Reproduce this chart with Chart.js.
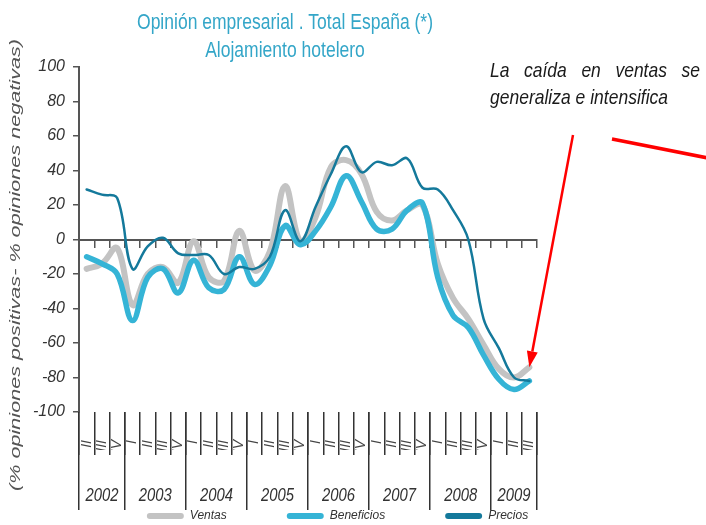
<!DOCTYPE html>
<html><head><meta charset="utf-8">
<style>html,body{margin:0;padding:0;background:#fff;}canvas{display:block;}</style>
<script src="https://cdn.jsdelivr.net/npm/chart.js@4.4.1/dist/chart.umd.min.js"></script>
</head><body>
<canvas id="c" width="706" height="525"></canvas>
<script>
// ---- data ----
const quarters = ['II','III','IV',
  'I','II','III','IV', 'I','II','III','IV', 'I','II','III','IV',
  'I','II','III','IV', 'I','II','III','IV', 'I','II','III','IV',
  'I','II','III'];
const years = ['2002','2003','2004','2005','2006','2007','2008','2009'];
const yearStartIdx = [0, 3, 7, 11, 15, 19, 23, 27, 30];
const ventas = [-17, -14, -5, -38, -20, -16, -25, -1, -22, -24, 5, -18, -7, 31, -1, 13,
  42, 46, 38, 16, 11, 17, 20, -14, -34, -46, -61, -75, -80, -74];
const beneficios = [-10, -14, -20, -47, -22, -17, -31, -12, -28, -29, -10, -26, -15, 8, -3, 5,
  19, 37, 22, 6, 6, 17, 21, -22, -44, -51, -67, -81, -87, -82];
const precios = [29, 26, 24, -17, -4, 1, -8, -9, -9, -20, -16, -17, -10, 17, -1, 19,
  38, 54, 39, 45, 43, 47, 30, 29, 17, 0, -46, -63, -80, -82];
const titleLines = ['Opinión empresarial . Total España (*)', 'Alojamiento hotelero'];
const yAxisTitle = '(% opiniones positivas- % opiniones negativas)';
const noteLines = [['La','caída','en','ventas','se'], 'generaliza e intensifica'];

const FAM = "'Liberation Sans', Arial, sans-serif";
Chart.defaults.font.family = FAM;

function alignPx(p, w) { return Math.round(p - w / 2) + w / 2; }

function narrowText(ctx, text, x, y, font, color, align, sx) {
  ctx.save();
  ctx.font = font; ctx.fillStyle = color; ctx.textBaseline = 'alphabetic'; ctx.textAlign = 'left';
  const w = ctx.measureText(text).width * sx;
  const left = align === 'center' ? x - w / 2 : (align === 'right' ? x - w : x);
  ctx.translate(left, y); ctx.scale(sx, 1);
  ctx.fillText(text, 0, 0);
  ctx.restore();
}

const decor = {
  id: 'decor',
  afterDraw(chart) {
    const ctx = chart.ctx;
    const xs = chart.scales.x, ys = chart.scales.y;
    const bottom = chart.chartArea.bottom;
    ctx.save();
    // year separators
    ctx.strokeStyle = '#333'; ctx.lineWidth = 1.5;
    yearStartIdx.forEach(b => {
      const px = alignPx(xs.getPixelForValue(b - 0.5), 1.5);
      ctx.beginPath(); ctx.moveTo(px, bottom); ctx.lineTo(px, bottom + 98); ctx.stroke();
    });
    // year labels
    for (let k = 0; k < years.length; k++) {
      const a = xs.getPixelForValue(yearStartIdx[k] - 0.5);
      const b = xs.getPixelForValue(yearStartIdx[k + 1] - 0.5);
      narrowText(ctx, years[k], (a + b) / 2, bottom + 89, 'italic 19px ' + FAM, '#333', 'center', 0.78);
    }
    // title
    const tf = 'normal 22px ' + FAM;
    ctx.font = tf;
    const tsx = 296 / ctx.measureText(titleLines[0]).width;
    narrowText(ctx, titleLines[0], 285, 29, tf, '#34a6c8', 'center', tsx);
    narrowText(ctx, titleLines[1], 285, 57, tf, '#34a6c8', 'center', tsx);
    // y axis title
    ctx.save();
    ctx.font = 'italic 15px ' + FAM;
    const ysx = 452 / ctx.measureText(yAxisTitle).width;
    ctx.translate(20, 265); ctx.rotate(-Math.PI / 2); ctx.scale(ysx, 1);
    ctx.fillStyle = '#555'; ctx.textAlign = 'center'; ctx.textBaseline = 'alphabetic';
    ctx.fillText(yAxisTitle, 0, 0);
    ctx.restore();
    // annotation text
    const nf = 'italic 21px ' + FAM;
    ctx.font = nf;
    const nsx = 178 / ctx.measureText(noteLines[1]).width;
    const words = noteLines[0];
    const ww = words.map(w => ctx.measureText(w).width * nsx);
    const gap = (210 - ww.reduce((s, v) => s + v, 0)) / (words.length - 1);
    let cx = 490;
    words.forEach((w, i) => { narrowText(ctx, w, cx, 77, nf, '#1a1a1a', 'left', nsx); cx += ww[i] + gap; });
    narrowText(ctx, noteLines[1], 490, 104, nf, '#1a1a1a', 'left', nsx);
    // red arrow to last ventas point
    const tipX = xs.getPixelForValue(ventas.length - 1);
    const tipY = ys.getPixelForValue(ventas[ventas.length - 1]);
    const sX = 573, sY = 135;
    const ang = Math.atan2(tipY - sY, tipX - sX);
    const hl = 16, hw = 5.5;
    const bx = tipX - hl * Math.cos(ang), by = tipY - hl * Math.sin(ang);
    ctx.strokeStyle = '#ff0000'; ctx.fillStyle = '#ff0000'; ctx.lineWidth = 2.5; ctx.lineCap = 'butt';
    ctx.beginPath(); ctx.moveTo(sX, sY); ctx.lineTo(bx, by); ctx.stroke();
    ctx.beginPath();
    ctx.moveTo(tipX, tipY);
    ctx.lineTo(bx + hw * Math.sin(ang), by - hw * Math.cos(ang));
    ctx.lineTo(bx - hw * Math.sin(ang), by + hw * Math.cos(ang));
    ctx.closePath(); ctx.fill();
    // second red stroke
    ctx.lineWidth = 3.5;
    ctx.beginPath(); ctx.moveTo(612, 139); ctx.lineTo(708, 158); ctx.stroke();
    ctx.restore();
  }
};

const common = { pointRadius: 0, pointHoverRadius: 0, tension: 0.38, fill: false,
  borderCapStyle: 'round', borderJoinStyle: 'round', xAxisID: 'x', yAxisID: 'y' };

new Chart(document.getElementById('c'), {
  type: 'line',
  data: {
    labels: quarters,
    datasets: [
      Object.assign({ label: 'Ventas', data: ventas, borderColor: '#c3c3c3', backgroundColor: '#c3c3c3', borderWidth: 6, order: 3 }, common),
      Object.assign({ label: 'Beneficios', data: beneficios, borderColor: '#35b4d6', backgroundColor: '#35b4d6', borderWidth: 5.5, order: 2 }, common),
      Object.assign({ label: 'Precios', data: precios, borderColor: '#14799b', backgroundColor: '#14799b', borderWidth: 2.5, order: 1 }, common)
    ]
  },
  options: {
    responsive: false, animation: false, devicePixelRatio: 1,
    layout: { padding: { left: 0, right: 31, top: 67, bottom: -7 } },
    scales: {
      x: {
        type: 'category', position: 'bottom', offset: true,
        grid: { offset: true, drawOnChartArea: false, drawTicks: true, tickLength: 43, color: '#333', lineWidth: 1.5 },
        border: { display: false },
        ticks: { autoSkip: false, minRotation: 90, maxRotation: 90, padding: -15, color: '#444',
          font: { style: 'italic', size: 14 } },
        afterFit(s) { s.height = 38; }
      },
      xz: {
        type: 'category', axis: 'x', position: { y: 0 }, offset: true,
        grid: { offset: true, drawOnChartArea: false, drawTicks: true, tickLength: 7, color: '#555', lineWidth: 1.5 },
        border: { display: true, color: '#555', width: 2 },
        ticks: { display: false }
      },
      y: {
        type: 'linear', position: 'left', min: -100, max: 100,
        grid: { drawOnChartArea: false, drawTicks: true, tickLength: 6, color: '#555', lineWidth: 1.5 },
        border: { display: true, color: '#555', width: 2 },
        ticks: { stepSize: 20, padding: 8, color: '#333', font: { style: 'italic', size: 16 } },
        afterFit(s) { s.width = 79; }
      },
      yr: {
        type: 'linear', position: 'right', display: true,
        grid: { display: false, drawTicks: false }, border: { display: false }, ticks: { display: false },
        afterFit(s) { s.width = 138; }
      }
    },
    plugins: {
      title: { display: false },
      tooltip: { enabled: false },
      legend: {
        display: true, position: 'bottom',
        labels: {
          boxWidth: 37, boxHeight: 6, padding: 60, color: '#333',
          font: { style: 'italic', size: 12 },
          sort: (a, b) => a.datasetIndex - b.datasetIndex,
          generateLabels(chart) {
            const items = Chart.defaults.plugins.legend.labels.generateLabels(chart);
            items.forEach(it => {
              const c = chart.data.datasets[it.datasetIndex].borderColor;
              it.fillStyle = c; it.strokeStyle = c; it.lineWidth = 0; it.borderRadius = 3;
            });
            return items;
          }
        }
      }
    }
  },
  plugins: [decor]
});
</script>
</body></html>
